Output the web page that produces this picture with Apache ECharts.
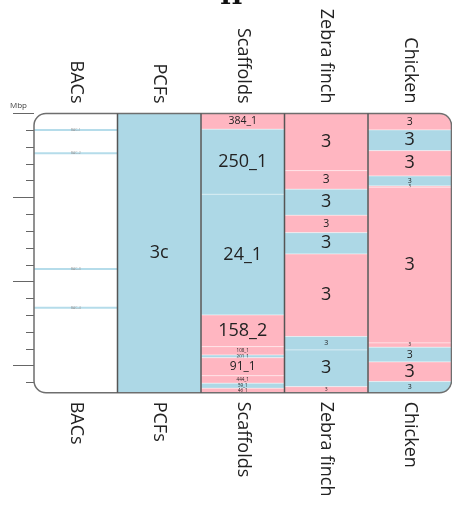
<!DOCTYPE html>
<html>
<head>
<meta charset="utf-8">
<script src="https://cdn.jsdelivr.net/npm/echarts@6/dist/echarts.min.js"></script>
<style>html,body{margin:0;padding:0;background:#fff}#c{width:452px;height:508px}</style>
</head>
<body>
<div id="c"></div>
<script>
// ---- data (Mbp) ----
const columns = ['BACs', 'PCFs', 'Scaffolds', 'Zebra finch', 'Chicken'];
const chromEnd = 16.61;
const minorTicks = [1,2,3,4,6,7,8,9,11,12,13,14,16];
const majorTicks = [0,5,10,15];

const bacPositions = [0.98, 2.37, 9.25, 11.55];
const bacNames = ['BAC-1', 'BAC-2', 'BAC-3', 'BAC-4'];

const pcfBreaks = [0, chromEnd];
const pcfStrand = ['+'];
const pcfNames = ['3c'];

const scaffoldBreaks = [0, 0.94, 4.81, 11.99, 13.87, 14.37, 14.53, 15.60, 16.05, 16.35, 16.61];
const scaffoldStrand = ['-', '+', '+', '-', '-', '+', '-', '-', '+', '-'];
const scaffoldNames = ['384_1', '250_1', '24_1', '158_2', '108_1', '201_1', '91_1', '444_1', '59_1', '46_1'];

const zebraBreaks = [0, 3.40, 4.51, 6.06, 7.09, 8.36, 13.27, 14.07, 16.25, 16.61];
const zebraStrand = ['-', '-', '+', '-', '+', '-', '+', '+', '-'];
const zebraNames = ['3', '3', '3', '3', '3', '3', '3', '3', '3'];

const chickenBreaks = [0, 0.98, 2.21, 3.72, 4.31, 4.39, 13.65, 13.91, 14.78, 15.95, 16.61];
const chickenStrand = ['-', '+', '-', '+', '-', '-', '-', '+', '-', '+'];
const chickenNames = ['3', '3', '3', '3', '3', '3', '3', '3', '3', '3'];

// ---- build segment table ----
const segs = [];
function addColumn(col, breaks, strands, names) {
  for (let i = 0; i < strands.length; i++) {
    segs.push({ col: col, s: breaks[i], e: breaks[i + 1], strand: strands[i], name: names[i],
      first: i === 0, last: i === strands.length - 1 });
  }
}
// BAC column background
segs.push({ col: 0, s: 0, e: chromEnd, strand: 'none', name: '', first: true, last: true });
addColumn(1, pcfBreaks, pcfStrand, pcfNames);
addColumn(2, scaffoldBreaks, scaffoldStrand, scaffoldNames);
addColumn(3, zebraBreaks, zebraStrand, zebraNames);
addColumn(4, chickenBreaks, chickenStrand, chickenNames);

const COLORS = { '+': '#ADD8E6', '-': '#FFB6C1', 'none': '#ffffff' };
const FONT = 'Open Sans';
const R = 12;

function fontFor(h) {
  if (h >= 19.5) return 18;
  if (h >= 17.5) return 12;
  if (h >= 14) return 10.5;
  if (h >= 9) return 7;
  return 4.5;
}

const chart = echarts.init(document.getElementById('c'), null, { renderer: 'canvas' });

const axisLabelCommon = { rotate: -90, fontSize: 18, fontFamily: FONT, color: '#222' };

chart.setOption({
  animation: false,
  title: {
    text: 'H', left: 215, top: -19,
    textStyle: { fontFamily: 'DejaVu Serif', fontWeight: 'bold', fontSize: 24, color: '#111' }
  },
  graphic: [{
    type: 'text', left: 10, top: 102,
    style: { text: 'Mbp', fontSize: 8, fontFamily: FONT, fill: '#444' }
  }],
  grid: { left: 34, right: 0.5, top: 113.5, bottom: 115.3 },
  xAxis: [
    { type: 'category', data: columns, position: 'bottom', boundaryGap: true,
      axisLine: { show: false }, axisTick: { show: false }, splitLine: { show: false },
      axisLabel: Object.assign({ margin: 9 }, axisLabelCommon) },
    { type: 'category', data: columns, position: 'top', boundaryGap: true,
      axisLine: { show: false }, axisTick: { show: false }, splitLine: { show: false },
      axisLabel: Object.assign({ margin: 10 }, axisLabelCommon) }
  ],
  yAxis: [
    { type: 'value', inverse: true, min: 0, max: chromEnd, position: 'left',
      axisLine: { show: false }, splitLine: { show: false }, axisLabel: { show: false },
      axisTick: { show: true, length: 8, customValues: minorTicks, lineStyle: { color: '#666', width: 1 } } },
    { type: 'value', inverse: true, min: 0, max: chromEnd, position: 'left',
      axisLine: { show: false }, splitLine: { show: false }, axisLabel: { show: false },
      axisTick: { show: true, length: 21, customValues: majorTicks, lineStyle: { color: '#666', width: 1 } } }
  ],
  series: [
    {
      type: 'custom', xAxisIndex: 0, yAxisIndex: 0, z: 2,
      data: segs.map(d => [d.col, d.s, d.e]),
      renderItem: function (params, api) {
        const d = segs[params.dataIndex];
        const p1 = api.coord([d.col, d.s]);
        const p2 = api.coord([d.col, d.e]);
        const w = api.size([1, 0])[0];
        const x = p1[0] - w / 2, y = p1[1], h = p2[1] - p1[1];
        let r = 0;
        if (d.col === 0) r = [R, 0, 0, R];
        else if (d.col === 4) r = [0, d.first ? R : 0, d.last ? R : 0, 0];
        const children = [{
          type: 'rect',
          shape: { x: x, y: y, width: w, height: h, r: r },
          style: { fill: COLORS[d.strand], stroke: d.strand === 'none' ? null : 'rgba(255,255,255,0.4)', lineWidth: 1 }
        }];
        if (d.name) {
          children.push({
            type: 'text',
            style: { text: d.name, x: p1[0], y: y + h / 2, align: 'center', verticalAlign: 'middle',
              fontSize: fontFor(h), fontFamily: FONT, fill: '#222' }
          });
        }
        return { type: 'group', children: children };
      }
    },
    {
      type: 'custom', xAxisIndex: 0, yAxisIndex: 0, z: 3,
      data: bacPositions.map((v, i) => [0, v, i]),
      renderItem: function (params, api) {
        const p = api.coord([0, api.value(1)]);
        const w = api.size([1, 0])[0];
        return { type: 'group', children: [
          { type: 'line', shape: { x1: p[0] - w / 2, y1: p[1], x2: p[0] + w / 2, y2: p[1] },
            style: { stroke: '#B5DCEA', lineWidth: 2 } },
          { type: 'text', style: { text: bacNames[params.dataIndex], x: p[0], y: p[1], align: 'center',
            verticalAlign: 'middle', fontSize: 3.5, fontFamily: FONT, fill: '#999' } }
        ] };
      }
    },
    {
      type: 'custom', xAxisIndex: 0, yAxisIndex: 0, z: 4,
      data: [[0, 0, chromEnd]],
      renderItem: function (params, api) {
        const tl = api.coord([0, 0]);
        const br = api.coord([columns.length - 1, chromEnd]);
        const w = api.size([1, 0])[0];
        const x0 = tl[0] - w / 2, x1 = br[0] + w / 2, y0 = tl[1], y1 = br[1];
        const children = [{
          type: 'rect', shape: { x: x0, y: y0, width: x1 - x0, height: y1 - y0, r: R },
          style: { fill: 'none', stroke: '#6e6e6e', lineWidth: 1.5 }
        }];
        for (let k = 1; k < columns.length; k++) {
          children.push({ type: 'line', shape: { x1: x0 + k * w, y1: y0, x2: x0 + k * w, y2: y1 },
            style: { stroke: '#555', lineWidth: 1.5 } });
        }
        return { type: 'group', children: children };
      }
    }
  ]
});
</script>
</body>
</html>
